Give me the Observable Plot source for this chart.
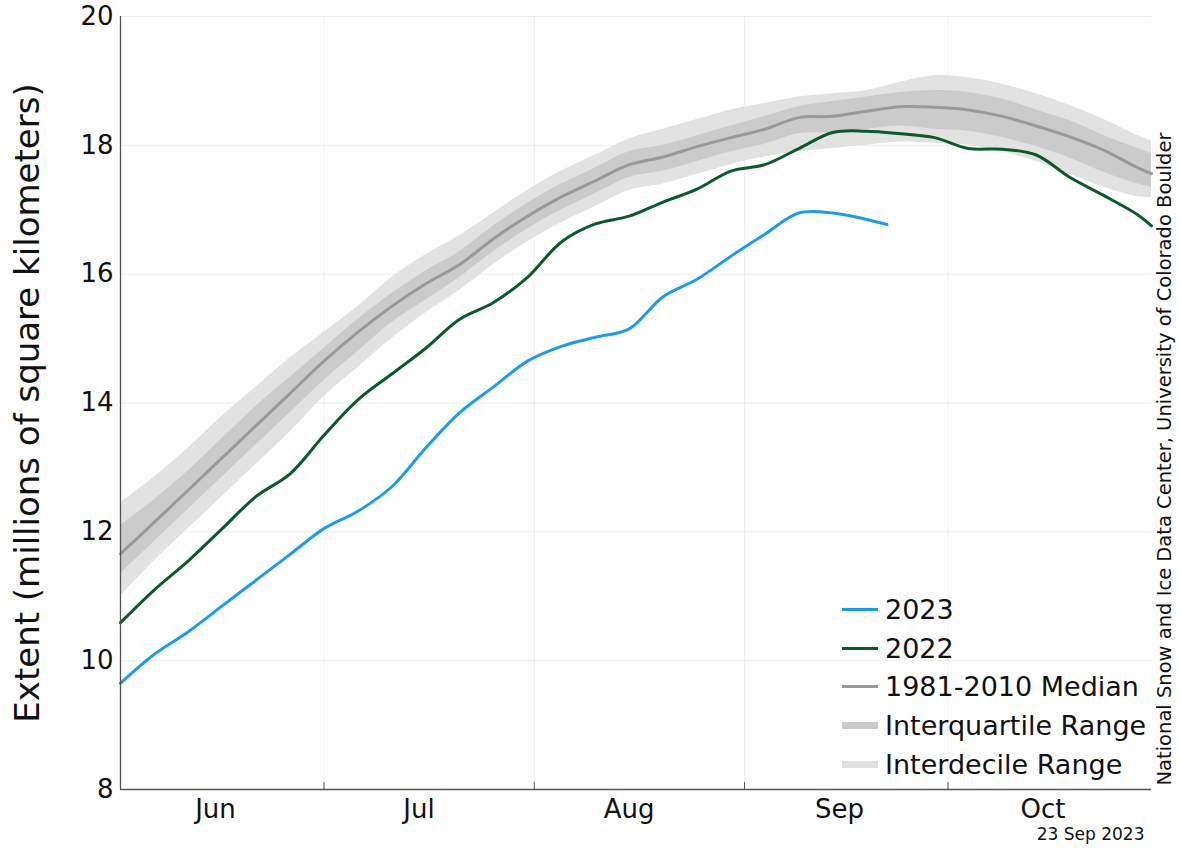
<!DOCTYPE html>
<html>
<head>
<meta charset="utf-8">
<script src="https://cdn.jsdelivr.net/npm/d3@7"></script>
<script src="https://cdn.jsdelivr.net/npm/@observablehq/plot@0.6"></script>
<style>
  body { margin: 0; background: #fff; font-family: "DejaVu Sans", sans-serif; }
  #wrap { position: relative; width: 1180px; height: 848px; }
  .legend { position: absolute; left: 842px; top: 590px; font-size: 27px; color: #111; }
  .legend .row { height: 38.8px; display: flex; align-items: center; white-space: nowrap; }
  .legend .sw { display: inline-block; width: 36px; margin-right: 7px; }
</style>
</head>
<body>
<div id="wrap"></div>
<script>
// Antarctic sea ice extent, millions of km², June through October
const dates = [
  "2023-06-01","2023-06-06","2023-06-11","2023-06-16","2023-06-21","2023-06-26",
  "2023-07-01","2023-07-06","2023-07-11","2023-07-16","2023-07-21","2023-07-26",
  "2023-07-31","2023-08-05","2023-08-10","2023-08-15","2023-08-20","2023-08-25",
  "2023-08-30","2023-09-04","2023-09-09","2023-09-14","2023-09-19","2023-09-24",
  "2023-09-29","2023-10-04","2023-10-09","2023-10-14","2023-10-19","2023-10-24",
  "2023-10-29","2023-10-31"
];

// 1981-2010 climatology
const median = [11.66,12.15,12.65,13.15,13.65,14.15,14.65,15.10,15.50,15.85,16.15,16.55,
                16.90,17.20,17.45,17.70,17.82,17.98,18.12,18.25,18.43,18.45,18.53,18.60,
                18.59,18.55,18.45,18.30,18.13,17.92,17.65,17.56];
const q25    = [11.35,11.85,12.35,12.85,13.35,13.85,14.35,14.80,15.25,15.60,15.95,16.35,
                16.70,17.00,17.25,17.50,17.60,17.75,17.90,18.02,18.18,18.20,18.25,18.30,
                18.25,18.22,18.12,17.98,17.80,17.58,17.40,17.35];
const q75    = [12.10,12.50,12.95,13.45,13.95,14.40,14.85,15.30,15.70,16.05,16.35,16.75,
                17.10,17.40,17.65,17.90,18.00,18.15,18.30,18.45,18.60,18.68,18.75,18.82,
                18.85,18.82,18.72,18.55,18.38,18.15,17.95,17.87];
const d10    = [11.00,11.55,12.05,12.55,13.05,13.55,14.10,14.55,15.00,15.40,15.75,16.15,
                16.50,16.80,17.05,17.30,17.40,17.55,17.70,17.82,17.90,17.95,18.00,18.05,
                18.03,18.00,17.90,17.75,17.55,17.35,17.20,17.19];
const d90    = [12.45,12.85,13.30,13.80,14.25,14.70,15.10,15.50,15.95,16.30,16.60,16.95,
                17.30,17.60,17.85,18.10,18.25,18.40,18.55,18.65,18.75,18.80,18.85,18.98,
                19.08,19.05,18.95,18.80,18.62,18.40,18.15,18.07];

// 2022 season (plotted on the same calendar days)
const ext2022 = [10.59,11.10,11.55,12.05,12.55,12.90,13.50,14.05,14.45,14.85,15.30,15.56,
                 15.95,16.50,16.78,16.90,17.12,17.32,17.60,17.70,17.95,18.20,18.22,18.18,
                 18.12,17.95,17.94,17.85,17.50,17.22,16.92,16.75];

// 2023 season, through 22 September
const dates2023 = [
  "2023-06-01","2023-06-06","2023-06-11","2023-06-16","2023-06-21","2023-06-26",
  "2023-07-01","2023-07-06","2023-07-11","2023-07-16","2023-07-21","2023-07-26",
  "2023-07-31","2023-08-05","2023-08-10","2023-08-15","2023-08-20","2023-08-25",
  "2023-08-30","2023-09-04","2023-09-09","2023-09-14","2023-09-19","2023-09-22"
];
const ext2023 = [9.65,10.10,10.45,10.85,11.25,11.65,12.05,12.32,12.70,13.30,13.85,14.25,
                 14.65,14.88,15.02,15.15,15.65,15.92,16.28,16.62,16.95,16.95,16.85,16.77];

const monthStarts = ["2023-07-01","2023-08-01","2023-09-01","2023-10-01"];
const monthLabels = ["2023-06-15","2023-07-15","2023-08-15","2023-09-15","2023-10-15"];
const yTicks = [8, 10, 12, 14, 16, 18, 20];
const yLabel = "Extent (millions of square kilometers)";
const credit = "National Snow and Ice Data Center, University of Colorado Boulder";
const stamp = "23 Sep 2023";

const series = [
  {name: "2023", color: "#1f9bea", width: 3},
  {name: "2022", color: "#0b5a2b", width: 3},
  {name: "1981-2010 Median", color: "#999999", width: 3},
  {name: "Interquartile Range", color: "#cbcbcb", width: 7},
  {name: "Interdecile Range", color: "#e2e2e2", width: 7}
];

const parse = d3.utcParse("%Y-%m-%d");
const clim = dates.map((d, i) => ({date: parse(d), median: median[i], q25: q25[i], q75: q75[i], d10: d10[i], d90: d90[i], y2022: ext2022[i]}));
const rows2023 = dates2023.map((d, i) => ({date: parse(d), value: ext2023[i]}));
const curve = "catmull-rom";

const chart = Plot.plot({
  width: 1180,
  height: 848,
  marginLeft: 120,
  marginRight: 29,
  marginTop: 16,
  marginBottom: 59,
  style: {fontFamily: "DejaVu Sans, sans-serif", background: "#fff", color: "#111"},
  x: {type: "utc", domain: [parse(dates[0]), parse(dates[dates.length - 1])]},
  y: {domain: [8, 20]},
  marks: [
    Plot.gridY(yTicks, {stroke: "#000", strokeOpacity: 0.07}),
    Plot.gridX(monthStarts.map(parse), {stroke: "#000", strokeOpacity: 0.07}),
    Plot.areaY(clim, {x: "date", y1: "d10", y2: "d90", fill: series[4].color, curve}),
    Plot.areaY(clim, {x: "date", y1: "q25", y2: "q75", fill: series[3].color, curve}),
    Plot.lineY(clim, {x: "date", y: "median", stroke: series[2].color, strokeWidth: 3, curve}),
    Plot.lineY(clim, {x: "date", y: "y2022", stroke: series[1].color, strokeWidth: 3, curve}),
    Plot.lineY(rows2023, {x: "date", y: "value", stroke: series[0].color, strokeWidth: 3, curve}),
    Plot.ruleX([parse(dates[0])], {stroke: "#555", strokeWidth: 1.3}),
    Plot.ruleY([8], {stroke: "#555", strokeWidth: 1.3}),
    Plot.axisY(yTicks, {tickSize: 0, tickPadding: 7, fontSize: 26, tickFormat: d => String(d), label: null}),
    Plot.axisX(monthStarts.map(parse), {tickSize: -7, stroke: "#555", tickFormat: () => "", label: null}),
    Plot.axisX(monthLabels.map(parse), {tickSize: 0, tickPadding: 10, fontSize: 26, tickFormat: d3.utcFormat("%b"), label: null}),
    Plot.text([yLabel], {frameAnchor: "left", rotate: -90, textAnchor: "middle", dx: -92, fontSize: 34, fill: "#111"}),
    Plot.text([credit], {frameAnchor: "bottom-right", rotate: -90, textAnchor: "start", dx: 19, dy: -4, fontSize: 19.5, fill: "#111"}),
    Plot.text([stamp], {frameAnchor: "bottom-right", textAnchor: "end", dx: -7, dy: 50, fontSize: 17, fill: "#111"})
  ]
});

const wrap = document.getElementById("wrap");
wrap.appendChild(chart);

// Legend drawn over the lower right of the plot area
const legend = document.createElement("div");
legend.className = "legend";
for (const s of series) {
  const row = document.createElement("div");
  row.className = "row";
  const sw = document.createElement("span");
  sw.className = "sw";
  sw.style.height = s.width + "px";
  sw.style.background = s.color;
  const label = document.createElement("span");
  label.textContent = s.name;
  row.appendChild(sw);
  row.appendChild(label);
  legend.appendChild(row);
}
wrap.appendChild(legend);
</script>
</body>
</html>
